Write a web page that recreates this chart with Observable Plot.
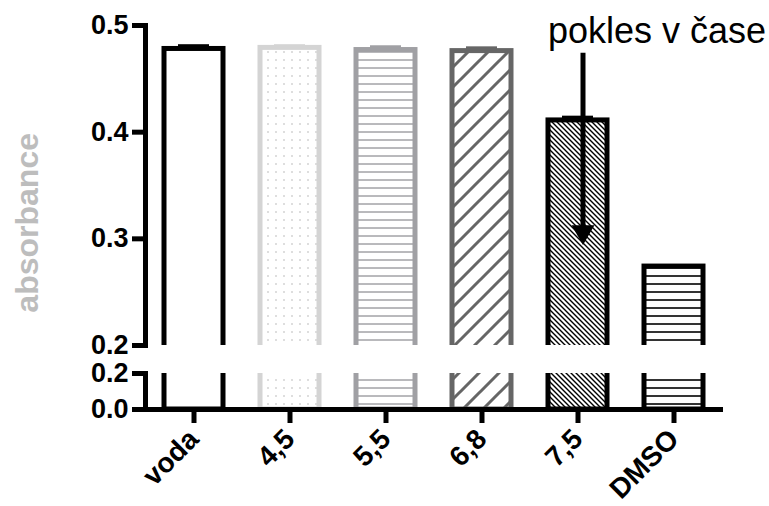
<!DOCTYPE html>
<html><head><meta charset="utf-8">
<script src="https://cdn.jsdelivr.net/npm/d3@7"></script>
<script src="https://cdn.jsdelivr.net/npm/@observablehq/plot@0.6"></script>
<style>
html,body{margin:0;padding:0;background:#fff;}
#chart{position:relative;width:769px;height:506px;overflow:hidden;}
#chart svg{position:absolute;left:0;}
</style></head><body>
<svg width="0" height="0" style="position:absolute;left:0;top:0">
<defs>
<pattern id="pat-dots" patternUnits="userSpaceOnUse" width="8" height="8"><rect width="8" height="8" fill="#fff"/><circle cx="4" cy="4" r="0.8" fill="#b4b4b4"/></pattern>
<pattern id="pat-hgray" patternUnits="userSpaceOnUse" width="8" height="8"><rect width="8" height="8" fill="#fff"/><line x1="0" y1="4" x2="8" y2="4" stroke="#a8a8ac" stroke-width="1.6"/></pattern>
<pattern id="pat-diag" patternUnits="userSpaceOnUse" width="20" height="20"><rect width="20" height="20" fill="#fff"/><path d="M0,20L20,0M-5,5L5,-5M15,25L25,15" stroke="#666" stroke-width="3"/></pattern>
<pattern id="pat-back" patternUnits="userSpaceOnUse" width="5" height="5"><rect width="5" height="5" fill="#fff"/><path d="M0,0L5,5M-1,4L1,6M4,-1L6,1" stroke="#000" stroke-width="1.4"/></pattern>
<pattern id="pat-hblack" patternUnits="userSpaceOnUse" width="8" height="8"><rect width="8" height="8" fill="#fff"/><line x1="0" y1="4" x2="8" y2="4" stroke="#000" stroke-width="1.6"/></pattern>
</defs></svg>
<div id="chart"></div>
<script>
// ---- data ----
const categories = ["voda", "4,5", "5,5", "6,8", "7,5", "DMSO"];
const values = [0.478, 0.479, 0.477, 0.476, 0.411, 0.274];
const errors = [0.004, 0.003, 0.004, 0.004, 0.004, 0.001];
const upperTicks = [0.2, 0.3, 0.4, 0.5];
const lowerTicks = [0.0, 0.2];
const yLabel = "absorbance";
const noteText = "pokles v čase";
const noteCategory = "7,5";
const arrowFrom = 0.474;
const arrowTo = 0.31;
const arrowTip = 0.3065;
const noteY = 0.494;
const labelY = 0.315;

// ---- styles ----
const fills = {"voda": "#ffffff", "4,5": "url(#pat-dots)", "5,5": "url(#pat-hgray)", "6,8": "url(#pat-diag)", "7,5": "url(#pat-back)", "DMSO": "url(#pat-hblack)"};
const strokes = {"voda": "#000000", "4,5": "#d4d4d4", "5,5": "#a0a0a4", "6,8": "#666666", "7,5": "#000000", "DMSO": "#000000"};

const data = categories.map((c, i) => ({cat: c, value: values[i], err: errors[i]}));

const font = "'Liberation Sans', Arial, sans-serif";
const xScale = {domain: categories, paddingInner: 0.385, paddingOuter: 0.2};

const upper = Plot.plot({
  width: 769, height: 352,
  marginTop: 25, marginBottom: 7, marginLeft: 145, marginRight: 46,
  x: {...xScale, axis: null},
  y: {domain: [0.2, 0.5], axis: null},
  style: {fontFamily: font, background: "transparent", color: "#000", overflow: "visible"},
  marks: [
    Plot.barY(data, {x: "cat", y1: 0, y2: "value", fill: d => fills[d.cat], stroke: d => strokes[d.cat], strokeWidth: 5, clip: true}),
    Plot.barY(data, {x: "cat", y1: "value", y2: d => d.value + d.err, fill: d => strokes[d.cat], insetLeft: 14, insetRight: 14}),
    Plot.frame({anchor: "left", strokeWidth: 5}),
    Plot.axisY({ticks: upperTicks, tickSize: 13, tickPadding: 4, strokeWidth: 5, fontSize: 27, fontWeight: "bold", label: null, tickFormat: d3.format(".1f")}),
    Plot.ruleX([{cat: noteCategory}], {x: "cat", y1: arrowFrom, y2: arrowTo, strokeWidth: 5, dx: 5}),
    Plot.dot([{cat: noteCategory}], {x: "cat", y: arrowTip, symbol: "triangle", fill: "#000", r: 8.5, rotate: 180, dx: 5}),
    Plot.text([noteText], {x: () => noteCategory, y: noteY, text: d => d, textAnchor: "start", dx: -30, fontSize: 36, fill: "#000"}),
    Plot.text([yLabel], {frameAnchor: "left", y: labelY, text: d => d, rotate: -90, textAnchor: "middle", dx: -118, fontSize: 32, fontWeight: "bold", fill: "#bdbdbd"})
  ]
});

const lower = Plot.plot({
  width: 769, height: 154,
  marginTop: 21, marginBottom: 97, marginLeft: 145, marginRight: 46,
  x: {...xScale, axis: null},
  y: {domain: [0, 0.2], axis: null},
  style: {fontFamily: font, background: "transparent", color: "#000", overflow: "visible"},
  marks: [
    Plot.barY(data, {x: "cat", y1: 0, y2: "value", fill: d => fills[d.cat], stroke: d => strokes[d.cat], strokeWidth: 5, clip: true}),
    Plot.frame({anchor: "left", strokeWidth: 5}),
    Plot.ruleY([0], {strokeWidth: 5}),
    Plot.axisY({ticks: lowerTicks, tickSize: 13, tickPadding: 4, strokeWidth: 5, fontSize: 27, fontWeight: "bold", label: null, tickFormat: d3.format(".1f")}),
    Plot.axisX({tickSize: 14, tickPadding: 11, strokeWidth: 5, tickRotate: -45, fontSize: 28, fontWeight: "bold", label: null})
  ]
});

const chart = document.getElementById("chart");
upper.style.top = "0px";
lower.style.top = "352px";
chart.appendChild(upper);
chart.appendChild(lower);
</script>
</body></html>
